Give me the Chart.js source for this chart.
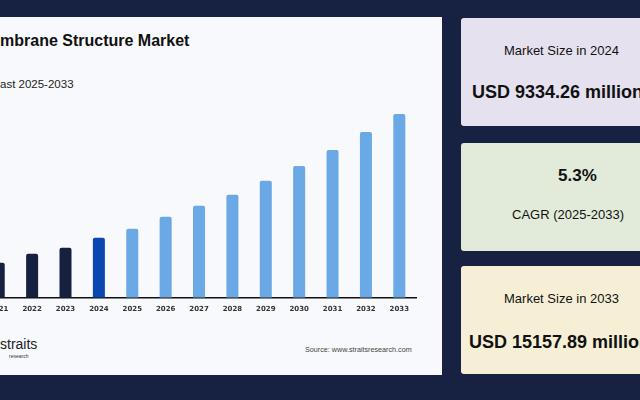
<!DOCTYPE html>
<html>
<head>
<meta charset="utf-8">
<script src="https://cdn.jsdelivr.net/npm/chart.js@4"></script>
<style>
  body { margin: 0; width: 640px; height: 400px; background: #172141; overflow: hidden; font-family: "Liberation Sans", Arial, sans-serif; position: relative; }
  #panel { position: absolute; left: 0; top: 17px; width: 442px; height: 358px; background: #f8f9fc; overflow: hidden; }
  #title { position: absolute; left: 0; top: 15px; font-size: 16px; font-weight: bold; color: #111; }
  #sub { position: absolute; left: 0; top: 61px; font-size: 11.5px; color: #222; }
  #wrap { position: absolute; left: -18px; top: 93px; width: 446px; height: 210px; }
  #logo { position: absolute; left: 0; top: 321px; font-size: 14px; color: #222; line-height: 12px; }
  #logo small { display: block; font-size: 5px; padding-left: 9px; color: #333; }
  #src { position: absolute; left: 305px; top: 328px; font-size: 7.2px; color: #444; }
  .card { position: absolute; left: 461px; width: 200px; height: 108px; border-radius: 3px; color: #111; }
  .card .a, .card .b { position: absolute; white-space: nowrap; }
  #c1 { top: 18px; background: #e6e1ee; }
  #c2 { top: 143px; background: #e2ebd9; }
  #c3 { top: 266px; background: #f6efd5; }
</style>
</head>
<body>
<div id="panel">
  <div id="title">mbrane Structure Market</div>
  <div id="sub">ast 2025-2033</div>
  <div id="wrap"><canvas id="chart"></canvas></div>
  <div id="logo">straits<small>research</small></div>
  <div id="src">Source: www.straitsresearch.com</div>
</div>
<div class="card" id="c1">
  <div class="a" style="left:43px;top:25px;font-size:13px;">Market Size in 2024</div>
  <div class="b" style="left:11px;top:64px;font-size:18px;font-weight:bold;">USD 9334.26 million</div>
</div>
<div class="card" id="c2">
  <div class="b" style="left:97px;top:23px;font-size:17px;font-weight:bold;">5.3%</div>
  <div class="a" style="left:51px;top:64px;font-size:13px;">CAGR (2025-2033)</div>
</div>
<div class="card" id="c3">
  <div class="a" style="left:43px;top:25px;font-size:13px;">Market Size in 2033</div>
  <div class="b" style="left:8px;top:66px;font-size:18px;font-weight:bold;">USD 15157.89 million</div>
</div>
<script>
const years = ['2021', '2022', '2023', '2024', '2025', '2026', '2027', '2028', '2029', '2030', '2031', '2032', '2033'];
const marketSize = [8161, 8584, 8866, 9334, 9759, 10323, 10840, 11357, 12015, 12720, 13472, 14318, 15158];
const barColors = ['#16213f', '#16213f', '#16213f', '#0a47b0', '#6aa8e6', '#6aa8e6', '#6aa8e6', '#6aa8e6', '#6aa8e6', '#6aa8e6', '#6aa8e6', '#6aa8e6', '#6aa8e6'];

const ctx = document.getElementById('chart').getContext('2d');
new Chart(ctx, {
    type: 'bar',
    data: {
        labels: years,
        datasets: [{
            data: marketSize,
            backgroundColor: barColors,
            borderRadius: { topLeft: 2, topRight: 2 },
            borderSkipped: 'bottom',
            barPercentage: 0.36,
            categoryPercentage: 1
        }]
    },
    options: {
        responsive: true,
        maintainAspectRatio: false,
        animation: false,
        layout: { padding: { top: 0, right: 12, left: 0, bottom: 0 } },
        plugins: { legend: { display: false }, tooltip: { enabled: false } },
        scales: {
            x: {
                grid: { display: false, drawTicks: false },
                border: { color: '#111', width: 1.5 },
                ticks: { color: '#333', font: { size: 7, weight: 'bold', family: 'DejaVu Sans' }, padding: 7, maxRotation: 0 }
            },
            y: {
                display: false,
                min: 6516,
                max: 15352
            }
        }
    }
});
</script>
</body>
</html>
